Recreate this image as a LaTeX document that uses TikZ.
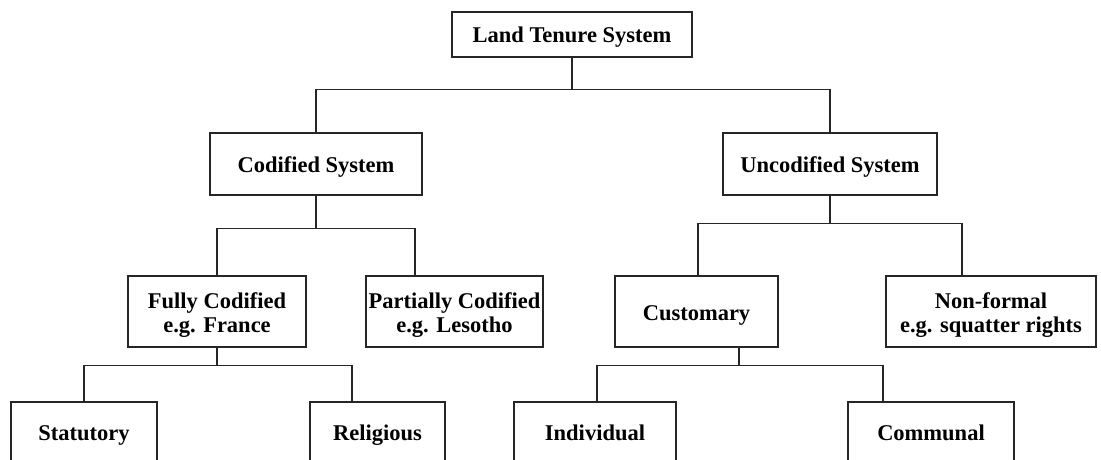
\documentclass[tikz,border=0pt]{standalone}
\usepackage{fontspec}
\setmainfont{Liberation Serif}
% raises the top of a two-line label so that both lines sit a little lower
\newcommand{\labeltop}{\rule{0pt}{22pt}}
\begin{document}
\begin{tikzpicture}[x=1pt,y=-1pt,
  box/.style={draw=black!85, line width=1.2pt, inner sep=0pt, align=center,
    font=\bfseries\fontsize{22.5}{24}\selectfont},
  oneline/.style={box, text height=17pt, text depth=0pt},
  twoline/.style={box},
  link/.style={draw=black!85, line width=1.2pt}]
\clip (0,0) rectangle (1101,460);
\fill[white] (0,0) rectangle (1101,460);

% level 0
\node[oneline, minimum width=240, minimum height=45] (lts) at (572,34.5) {Land Tenure System};
% level 1
\node[oneline, minimum width=212, minimum height=62] (cod) at (316,164) {Codified System};
\node[oneline, minimum width=214, minimum height=62] (unc) at (830,164) {Uncodified System};
% level 2
\node[twoline, minimum width=178, minimum height=71] (full) at (217,311.5) {\labeltop Fully Codified\\e.g. France};
\node[twoline, minimum width=177, minimum height=71] (part) at (454.5,311.5) {\labeltop Partially Codified\\e.g. Lesotho};
\node[oneline, minimum width=163, minimum height=71] (cust) at (696.5,311.5) {Customary};
\node[twoline, minimum width=210, minimum height=71] (nonf) at (991,311.5) {\labeltop Non-formal\\e.g. squatter rights};
% level 3
\node[oneline, minimum width=146, minimum height=60] (stat) at (84,432) {Statutory};
\node[oneline, minimum width=135, minimum height=60] (reli) at (377.5,432) {Religious};
\node[oneline, minimum width=162, minimum height=60] (indi) at (595,432) {Individual};
\node[oneline, minimum width=166, minimum height=60] (comm) at (931,432) {Communal};

% connectors
\draw[link] (lts.south) -- ++(0,32) coordinate (j0);
\draw[link] (cod.north) |- (j0) -| (unc.north);

\draw[link] (cod.south) -- ++(0,33) coordinate (j1);
\draw[link] (full.north) |- (j1) -| ([xshift=-39.5pt]part.north);

\draw[link] (unc.south) -- ++(0,28) coordinate (j2);
\draw[link] ([xshift=1.5pt]cust.north) |- (j2) -| ([xshift=-29pt]nonf.north);

\draw[link] (full.south) -- ++(0,18) coordinate (j3);
\draw[link] (stat.north) |- (j3) -| ([xshift=-25.5pt]reli.north);

\draw[link] ([xshift=42.5pt]cust.south) -- ++(0,18) coordinate (j4);
\draw[link] ([xshift=2pt]indi.north) |- (j4) -| ([xshift=-48pt]comm.north);
\end{tikzpicture}
\end{document}
